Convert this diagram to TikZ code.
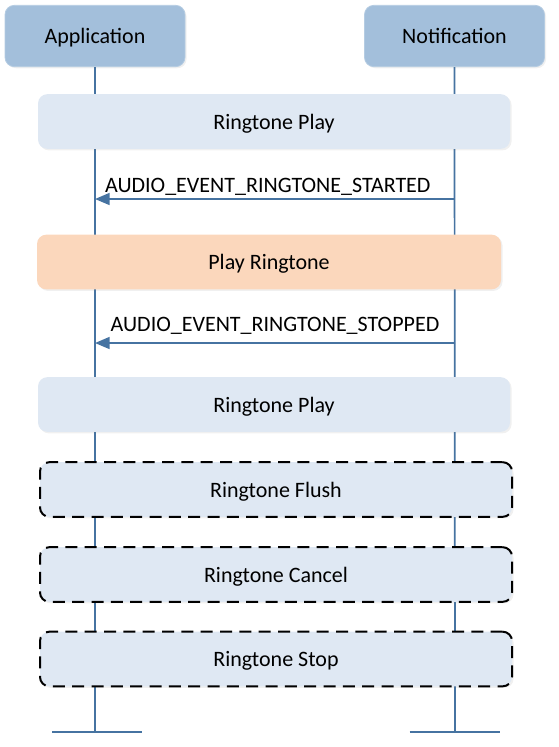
\documentclass[tikz,border=0pt]{standalone}
\usepackage{fontspec}
\setmainfont{Carlito}
\usetikzlibrary{arrows.meta,shadows}
\definecolor{headblue}{HTML}{A3BFDB}
\definecolor{stepblue}{HTML}{DFE8F3}
\definecolor{steporange}{HTML}{FBD7BC}
\definecolor{lifeblue}{HTML}{4673A1}
\begin{document}
\begin{tikzpicture}[x=0.75pt,y=-0.75pt,
    font=\fontsize{16.5}{20}\selectfont,
    head/.style={rectangle,rounded corners=7pt,fill=headblue,draw=headblue!80!white,line width=0.6pt,
      minimum width=135pt,minimum height=46pt,text depth=0pt,
      drop shadow={shadow xshift=1.2pt,shadow yshift=-1.2pt,opacity=0.12}},
    stepbox/.style={rectangle,rounded corners=7pt,fill=stepblue,minimum width=354pt,minimum height=41pt,
      text depth=0pt,
      drop shadow={shadow xshift=1.2pt,shadow yshift=-1.2pt,opacity=0.12}},
    optbox/.style={stepbox,draw=black,line width=1.5pt,dash pattern=on 9pt off 5.5pt},
    life/.style={draw=lifeblue,line width=1.3pt},
    msg/.style={life,-{Triangle[length=11pt,width=9pt]}}]
  \useasboundingbox (0,0) rectangle (558,747);
  % participants
  \node[head] (app) at (95,36) {Application};
  \node[head] (notif) at (454.5,36) {Notification};
  \coordinate (append) at (95,732);
  \coordinate (notifend) at (455,732);
  \draw[life] (app.south) -- (append);
  \draw[life] (notif.south) -- (notifend);
  \draw[life] ([xshift=-32pt]append) -- ([xshift=35pt]append);
  \draw[life] ([xshift=-34pt]notifend) -- ([xshift=34pt]notifend);
  % steps
  \node[stepbox] (play1) at (274,121.5) {Ringtone Play};
  \node[stepbox,fill=steporange,minimum width=348pt] (ring) at (269,262) {Play Ringtone};
  \node[stepbox] (play2) at (274,404.5) {Ringtone Play};
  \node[optbox] (flush) at (276,489.5) {Ringtone Flush};
  \node[optbox] (cancel) at (276,574.5) {Ringtone Cancel};
  \node[optbox] (stop) at (276,659) {Ringtone Stop};
  % events
  \coordinate (n1) at (455,199);
  \coordinate (a1) at (95,199);
  \coordinate (n2) at (455,343);
  \coordinate (a2) at (95,343);
  \draw[msg] (n1) -- node[above=1pt,pos=0.52,text depth=0pt] {AUDIO\_EVENT\_RINGTONE\_STARTED} (a1);
  \draw[msg] (n2) -- node[above=5pt,pos=0.5,text depth=0pt] {AUDIO\_EVENT\_RINGTONE\_STOPPED} (a2);
\end{tikzpicture}
\end{document}
